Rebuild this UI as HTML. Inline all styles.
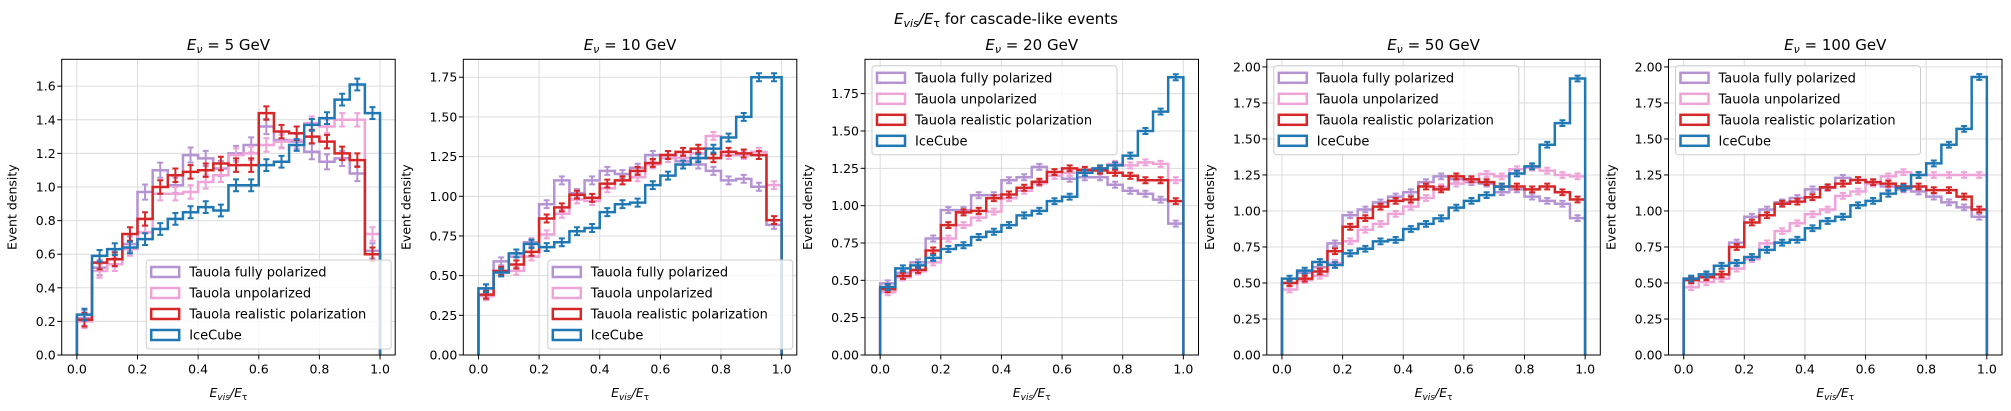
<!DOCTYPE html>
<html><head><meta charset="utf-8"><style>
html,body{margin:0;padding:0;background:#fff;}
svg{display:block;font-family:"DejaVu Sans","Liberation Sans",sans-serif;}
</style></head><body>
<svg id="fig" width="2011" height="411" viewBox="0 0 2011 411" xmlns="http://www.w3.org/2000/svg">
<rect width="2011" height="411" fill="#fff"/>
<text x="1006" y="24" text-anchor="middle" font-size="15"><tspan font-style="italic">E</tspan><tspan font-style="italic" font-size="11" dy="3">vis</tspan><tspan dy="-3" font-style="italic">/E</tspan><tspan font-size="11" dy="3">τ</tspan><tspan dy="-3"> for cascade-like events</tspan></text>
</svg>
<script>
const energies = [5, 10, 20, 50, 100];
const seriesNames = ["Tauola fully polarized","Tauola unpolarized","Tauola realistic polarization","IceCube"];
const yTickMax = [1.6, 1.75, 1.75, 2.0, 2.0];
const yTickStep = [0.2, 0.25, 0.25, 0.25, 0.25];
const yMax = [1.76, 1.863, 1.98, 2.053, 2.053];
const xTicks = [0.0, 0.2, 0.4, 0.6, 0.8, 1.0];

const purple1 = [0.22,0.52,0.57,0.66,0.97,1.10,1.01,1.19,1.17,1.11,1.20,1.25,1.36,1.28,1.27,1.21,1.15,1.17,1.08,0.62];
const pink1   = [0.20,0.50,0.54,0.63,0.73,0.96,0.96,0.97,1.03,1.07,1.19,1.20,1.25,1.27,1.28,1.38,1.36,1.40,1.40,0.72];
const red1    = [0.21,0.55,0.57,0.72,0.81,1.00,1.07,1.09,1.10,1.14,1.13,1.13,1.44,1.33,1.32,1.30,1.27,1.20,1.16,0.60];
const blue1   = [0.24,0.59,0.63,0.64,0.69,0.75,0.81,0.85,0.88,0.86,1.01,1.01,1.13,1.15,1.25,1.37,1.41,1.52,1.61,1.44];

const purple2 = [0.42,0.59,0.62,0.71,0.95,1.10,1.02,1.10,1.16,1.14,1.18,1.26,1.26,1.22,1.20,1.16,1.10,1.11,1.06,0.82];
const pink2   = [0.37,0.52,0.53,0.62,0.76,0.89,0.98,0.97,1.05,1.10,1.12,1.20,1.24,1.24,1.27,1.38,1.26,1.26,1.28,1.07];
const red2    = [0.38,0.53,0.57,0.65,0.86,0.93,1.01,0.99,1.08,1.10,1.16,1.21,1.26,1.28,1.30,1.24,1.28,1.27,1.26,0.85];
const blue2   = [0.42,0.52,0.64,0.70,0.68,0.71,0.78,0.80,0.90,0.95,0.96,1.07,1.13,1.20,1.24,1.30,1.37,1.50,1.75,1.75];

const purple3 = [0.48,0.55,0.62,0.78,0.97,0.97,1.07,1.07,1.17,1.19,1.26,1.20,1.18,1.19,1.19,1.14,1.10,1.08,1.04,0.88];
const pink3   = [0.42,0.52,0.56,0.62,0.78,0.87,0.92,0.96,1.05,1.10,1.15,1.20,1.22,1.23,1.24,1.28,1.27,1.29,1.28,1.17];
const red3    = [0.44,0.53,0.57,0.70,0.87,0.955,0.965,1.05,1.075,1.12,1.16,1.225,1.25,1.24,1.235,1.22,1.20,1.17,1.17,1.03];
const blue3   = [0.455,0.58,0.60,0.65,0.71,0.735,0.79,0.825,0.87,0.935,0.965,1.03,1.06,1.22,1.25,1.27,1.335,1.50,1.63,1.86];

const purple4 = [0.50,0.57,0.61,0.775,0.97,1.01,1.06,1.10,1.13,1.20,1.24,1.22,1.20,1.19,1.13,1.15,1.10,1.07,1.05,0.95];
const pink4   = [0.455,0.52,0.55,0.64,0.79,0.87,0.91,0.98,1.03,1.09,1.165,1.19,1.21,1.257,1.24,1.29,1.30,1.28,1.25,1.24];
const red4    = [0.50,0.53,0.58,0.72,0.89,0.95,1.03,1.07,1.08,1.17,1.15,1.24,1.22,1.20,1.17,1.17,1.15,1.17,1.13,1.08];
const blue4   = [0.53,0.586,0.646,0.625,0.706,0.738,0.789,0.799,0.875,0.91,0.949,1.023,1.07,1.11,1.169,1.26,1.31,1.46,1.61,1.92];

const purple5 = [0.53,0.555,0.62,0.78,0.96,1.01,1.06,1.09,1.15,1.16,1.23,1.215,1.19,1.17,1.15,1.135,1.10,1.06,1.025,0.96];
const pink5   = [0.47,0.505,0.53,0.60,0.665,0.775,0.86,0.915,0.977,1.01,1.105,1.135,1.19,1.24,1.27,1.25,1.25,1.25,1.25,1.25];
const red5    = [0.52,0.54,0.56,0.75,0.92,0.97,1.05,1.065,1.095,1.165,1.19,1.215,1.20,1.19,1.17,1.17,1.145,1.145,1.10,1.01];
const blue5   = [0.53,0.56,0.62,0.64,0.68,0.73,0.78,0.80,0.88,0.93,0.96,1.04,1.07,1.12,1.16,1.25,1.33,1.46,1.57,1.93];

const errs1 = [0.045,0.04,0.04,0.035];
const errs2 = [0.025,0.025,0.025,0.025];
const errs3 = [0.02,0.02,0.02,0.02];
const errs4 = [0.02,0.02,0.02,0.02];
const errs5 = [0.02,0.02,0.02,0.02];

const panelData = [
  [purple1,pink1,red1,blue1],
  [purple2,pink2,red2,blue2],
  [purple3,pink3,red3,blue3],
  [purple4,pink4,red4,blue4],
  [purple5,pink5,red5,blue5]
];
const panelErrs = [errs1,errs2,errs3,errs4,errs5];

const colors = ["#b593d3","#eea4d9","#d62728","#1f77b4"];
const seriesKeys = ["fully-polarized","unpolarized","realistic-polarization","icecube"];
const axLeft = [61.7, 463.3, 865, 1266.8, 1668.5];
const axW = 333.5, axTop = 59.3, axBot = 355;
const legendLower = [true, true, false, false, false];

const NS = "http://www.w3.org/2000/svg";
const svg = document.getElementById("fig");
function el(tag, attrs, parent){
  const e = document.createElementNS(NS, tag);
  for (const k in attrs) e.setAttribute(k, attrs[k]);
  (parent||svg).appendChild(e);
  return e;
}

for (let p = 0; p < 5; p++) {
  const L = axLeft[p];
  const X = v => L + (v + 0.05) / 1.1 * axW;
  const Y = v => axBot - v / yMax[p] * (axBot - axTop);
  const g = el("g", {});
  
  

  const yt = [];
  for (let v = 0; v <= yTickMax[p] + 1e-9; v += yTickStep[p]) yt.push(v);
  xTicks.forEach(t => {
    const ln = el("line", {x1:X(t), x2:X(t), y1:axTop, y2:axBot, stroke:"#dcdcdc", "stroke-width":1}, g);
    
    
  });
  yt.forEach(t => {
    const ln = el("line", {x1:L, x2:L+axW, y1:Y(t), y2:Y(t), stroke:"#dcdcdc", "stroke-width":1}, g);
    
    
  });

  const bins = panelData[p][0].length;
  const w = 1 / bins;
  panelData[p].forEach((vals, s) => {
    let d = "M" + X(0) + " " + Y(0);
    vals.forEach((v, i) => { d += " V" + Y(v) + " H" + X((i + 1) * w); });
    d += " V" + Y(0);
    const path = el("path", {d:d, fill:"none", stroke:colors[s], "stroke-width":2.5, "stroke-linejoin":"miter"}, g);
    
    
    vals.forEach((v, i) => {
      const cx = X((i + 0.5) * w), e = panelErrs[p][s];
      const eb = el("path", {d:"M"+cx+" "+Y(v-e)+" V"+Y(v+e)+" M"+(cx-3)+" "+Y(v-e)+" H"+(cx+3)+" M"+(cx-3)+" "+Y(v+e)+" H"+(cx+3), stroke:colors[s], "stroke-width":2, fill:"none"}, g);
      
      
    });
  });

  const fr = el("rect", {x:L, y:axTop, width:axW, height:axBot-axTop, fill:"none", stroke:"#000", "stroke-width":1}, g);
  
  

  xTicks.forEach(t => {
    el("line", {x1:X(t), x2:X(t), y1:axBot, y2:axBot+4.4, stroke:"#000", "stroke-width":1}, g);
    const tx = el("text", {x:X(t), y:axBot+18.5, "text-anchor":"middle", "font-size":12.5}, g);
    tx.textContent = t.toFixed(1);
    
    
  });
  const dec = yTickStep[p] === 0.25 ? 2 : 1;
  yt.forEach(t => {
    el("line", {x1:L-4.4, x2:L, y1:Y(t), y2:Y(t), stroke:"#000", "stroke-width":1}, g);
    const ty = el("text", {x:L-6, y:Y(t)+4.5, "text-anchor":"end", "font-size":12.5}, g);
    ty.textContent = t.toFixed(dec);
    
    
  });

  const xl = el("text", {x:L+axW/2, y:397, "text-anchor":"middle", "font-size":12.5}, g);
  xl.innerHTML = '<tspan font-style="italic">E</tspan><tspan font-style="italic" font-size="9" dy="3">vis</tspan><tspan font-style="italic" dy="-3">/E</tspan><tspan font-size="9" dy="3">τ</tspan>';
  
  
  const ylx = L - (dec === 1 ? 45 : 53);
  const yl = el("text", {x:ylx, y:(axTop+axBot)/2, "text-anchor":"middle", "font-size":12.5, transform:"rotate(-90 "+ylx+" "+((axTop+axBot)/2)+")"}, g);
  yl.textContent = "Event density";
  
  
  const tt = el("text", {x:L+axW/2, y:50, "text-anchor":"middle", "font-size":15}, g);
  tt.innerHTML = '<tspan font-style="italic">E</tspan><tspan font-style="italic" font-size="11" dy="3">ν</tspan><tspan dy="-3"> = ' + energies[p] + ' GeV</tspan>';
  
  

  const lw = 245, lh = 89;
  const lx = legendLower[p] ? L + axW - lw - 4 : L + 7;
  const ly = legendLower[p] ? axBot - lh - 6 : axTop + 6.5;
  const lg = el("g", {}, g);
  
  
  el("rect", {x:lx, y:ly, width:lw, height:lh, rx:3, fill:"#fff", "fill-opacity":0.8, stroke:"#cccccc", "stroke-width":1}, lg);
  seriesNames.forEach((n, s) => {
    const ry = ly + 11.5 + s * 21;
    const pr = el("rect", {x:lx+5, y:ry-4.5, width:28, height:10, fill:"none", stroke:colors[s], "stroke-width":2.5}, lg);
    
    
    const lt = el("text", {x:lx+43, y:ry+5, "font-size":13}, lg);
    lt.textContent = n;
    
    
  });
}
</script>
</body></html>
